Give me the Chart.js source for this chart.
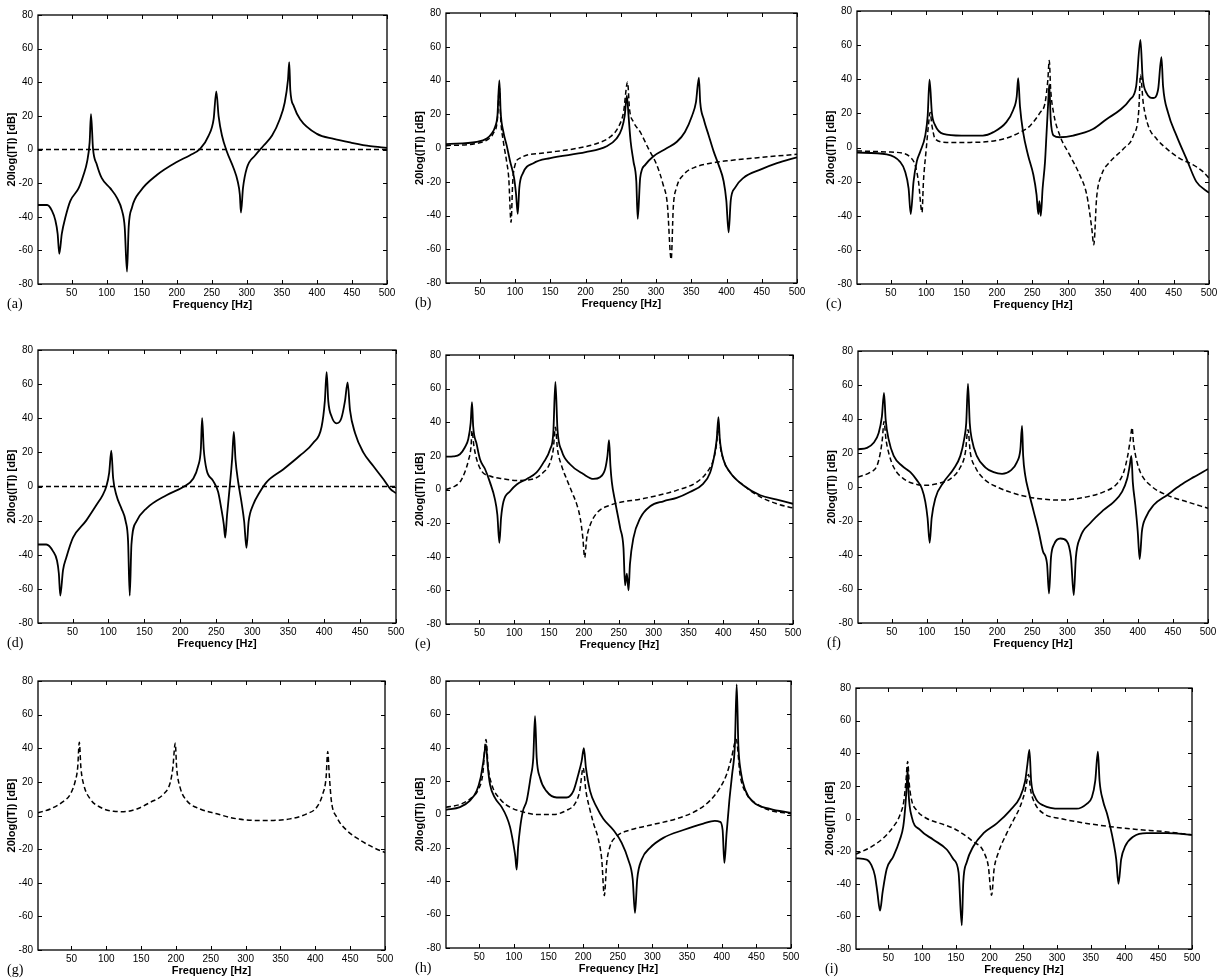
<!DOCTYPE html>
<html><head><meta charset="utf-8">
<script src="https://cdn.jsdelivr.net/npm/chart.js@4/dist/chart.umd.min.js"></script>
<style>
html,body{margin:0;padding:0;background:#fff;}
#page{position:relative;width:1232px;height:980px;overflow:hidden;background:#fff;}
#page canvas{position:absolute;}
.lbl{position:absolute;font-family:"Liberation Serif","DejaVu Serif",serif;font-size:14px;color:#000;line-height:1;}
</style></head><body><div id="page"></div>
<script>
// ---------- tick labels ----------
const xTicks = [50,100,150,200,250,300,350,400,450,500];
const yTicks = [-80,-60,-40,-20,0,20,40,60,80];
const xTitle = 'Frequency [Hz]';
const yTitle = '20log(|T|) [dB]';

// ---------- series: [frequency Hz, dB] ----------
const aSolid = [[2,-33],[15,-33],[22,-36.5],[26.7,-42],[30,-50],[32.4,-62],[36,-50],[41,-40.5],[48,-30.7],[60,-23],[67,-15],[72,-7.4],[75.7,4.4],[77.6,21],[80.5,0.5],[86,-9],[93,-17],[105,-23],[114.7,-28.8],[122,-36.5],[125.7,-46],[129,-72.6],[131.4,-46],[136,-34.6],[148,-24.8],[172,-15],[200,-7.4],[219,-3.4],[233.6,0.5],[245.5,8.3],[252.6,18],[256.4,34.6],[259.7,19.9],[264.5,8.3],[271.7,-1.5],[281,-11],[287,-19],[290,-26.8],[291.6,-37.5],[294.5,-23],[300,-11],[312,-3.4],[324,2.4],[336,8.3],[347,18],[354,27.8],[358.7,41.4],[360.5,52],[362,35.5],[367,25.8],[376,18],[400,9.3],[424,6.3],[449.5,4],[476,2],[500,1]];
const aDashed = [[2,0],[500,0]];

const bSolid = [[2,2.3],[45.6,3.6],[59.8,5.6],[66.9,8.6],[71.6,12.5],[75,19.3],[77.7,40],[79.6,21],[83.4,9.5],[88,1.7],[93,-8],[98.6,-17.7],[101.4,-27.4],[103.8,-39],[106,-23.6],[111,-15],[126,-9],[150,-6],[200,-2.5],[230,1],[244,5.6],[251.5,11.5],[255.5,19],[258.6,31],[261,19],[264,3.7],[268,-8],[272,-19.7],[274,-42],[277.5,-17.7],[284.6,-10],[296,-5],[315,-0.2],[329.6,3.7],[341,9.5],[351,19],[356.6,27],[360.8,41.7],[362.7,27],[367.5,17.3],[374.6,7.6],[381.7,-2],[388.8,-10],[395.9,-19.7],[399.7,-31],[403,-50],[406,-31],[412,-23.6],[424,-17.7],[448,-12.8],[471.6,-9],[500,-5.5]];
const bDashed = [[2,1.4],[45.6,2.7],[59.8,4.7],[69,8.6],[75,17.3],[77.7,36],[79.6,17.3],[83.4,3.7],[88,-8],[91,-17.7],[94.3,-44],[96.7,-19.7],[100,-10],[107,-6],[140,-3],[187.6,-0.2],[216,2.7],[235,6.6],[246.7,12.5],[253.8,21],[259.6,39],[262.4,23],[268,15.4],[277.5,9.5],[289,-0.2],[301,-10],[310,-21.6],[316,-33],[321.5,-66],[324.5,-35],[329,-23.6],[339,-15.8],[358,-11],[377,-9],[400.6,-7.6],[448,-5.6],[500,-3.7]];

const cSolid = [[2,-3],[44,-4],[63,-8.4],[70,-14],[75,-24],[78,-39],[82,-20],[86.7,-8],[91.4,-2.5],[98.5,7],[102,18.5],[104.6,39.7],[108,20],[112.6,13],[124,8],[150,7],[180,7],[195,9],[213,14.7],[223,22],[228,30],[230,40.6],[232.6,24],[237,9],[244,-4.5],[251.5,-16],[256,-27.6],[258.5,-39],[260,-31.4],[262,-40],[264.6,-24],[268,-8.4],[270,7],[272.7,28],[274,37],[276,16.6],[280,7],[289,6],[308,7],[336,10.8],[355,16.6],[374,22],[388,28],[397,36],[403,63],[406,41.6],[411.5,32],[421,29],[428,34],[432.7,53],[435,36],[442,20.5],[454,7],[468,-6.5],[482,-20],[500,-26.6]];
const cDashed = [[2,-2],[44,-2.6],[68,-3.5],[77,-5.5],[84,-10],[89,-20],[94,-38],[96,-20],[100,-0.7],[103,12.8],[105.5,20.5],[108,13],[112.6,5],[129,3],[162,3],[209,5],[233,9],[247,12.8],[261,20.5],[268,26],[272,39.6],[274,51],[276,34],[280,20.5],[289,7],[303,-4.5],[317,-16],[327,-27.6],[334,-46.8],[337,-57],[341,-29.5],[348,-16],[360,-8.4],[379,-0.7],[393,7],[400.7,22],[403,42.5],[407,26],[414,12.8],[426,5],[440,-0.7],[459,-6.5],[477,-10],[491,-14],[500,-18]];

const dSolid = [[2,-34],[13.6,-34],[23,-38],[28.5,-43.5],[31,-51],[33,-64],[36.8,-49],[41.4,-41.6],[50.7,-30],[69,-20],[83,-11],[92,-5],[97,0],[101,8],[104,21],[106.5,5],[111,-5],[118,-12.8],[124,-20.5],[127.3,-32],[129.6,-64],[132,-33.9],[139,-20.5],[153,-12.8],[180.7,-5.1],[204,-0.3],[217.8,4.5],[224.8,12],[228.5,21.7],[230.3,40],[232.6,21.7],[236.4,10],[245.6,3.3],[252.6,-3.2],[257,-13],[260.5,-22.4],[262.4,-30],[265,-16.7],[268.9,0.7],[272,16],[274.4,32],[276.7,16],[280.5,2.6],[285,-9],[288.8,-20.5],[292,-36],[295,-20.5],[301,-11],[310.6,-3.2],[320,2.6],[343,10],[366,18],[385,25.6],[396.5,35],[401,50],[403.5,67],[405.8,50],[410.4,41],[417.4,37],[424,40],[429,50],[432.7,61],[436,44.8],[443,31.4],[454.5,20],[468.4,12],[482,4.5],[491.7,-1.2],[500,-4]];
const dDashed = [[2,0],[500,0]];

const eSolid = [[2,19.5],[12.5,19.7],[22,21],[29,25],[34,30],[37.4,39.6],[39.3,51.9],[41,37.6],[46,27],[50.8,18],[58,12.2],[65,4.4],[72,-5.4],[75.7,-15],[78.6,-31.7],[81,-17],[84.4,-7.3],[94,-1],[103.5,3],[118,6.3],[132,10.2],[141.8,16],[151.4,23.9],[156,33.7],[159,64],[162,35.6],[168,23],[180,15],[199,9.2],[213.6,6.3],[223,7.3],[230.4,12.2],[233.7,20],[236,29.4],[238,14],[240,4.4],[244.8,-7.3],[252,-23],[256.7,-34.7],[259,-57],[261.5,-50],[264,-60],[266,-44.4],[271,-28.8],[280.7,-17],[295,-10],[314,-7],[333,-5],[352,-1.5],[371,3.4],[381,10],[387,20],[390.5,29.8],[393,43],[395,29.8],[400,18],[410,10],[429,2.4],[453,-3.4],[477,-6],[500,-8.5]];
const eDashed = [[2,0],[12.5,1.5],[22,4.4],[29,10.3],[34,17],[38,26],[39.3,35],[42,26],[46,18],[53,11],[65,8],[84.4,6.3],[103.5,5.4],[127.4,6.3],[141.8,10.2],[151.4,16],[156,24],[159,37],[162,24],[168,14],[175,6.3],[182.7,-1.5],[190,-9.3],[194.6,-17],[198.4,-28.8],[201,-40.5],[204,-28.8],[209,-21],[218.5,-14],[237.6,-9.3],[285.5,-5.4],[333,-0.5],[362,4.4],[376.4,10.2],[386,18],[390.5,27.8],[393,39],[395,27.8],[400,18],[410,10],[429,2.4],[453,-4.4],[477,-8.5],[500,-11]];

const fSolid = [[2,22.2],[14.8,23],[24.3,26],[31.4,31.8],[36,41.4],[39,55.3],[41.4,39.5],[45.6,28],[52.8,18.3],[64.6,12.5],[76.5,8.7],[86,3.9],[93,-1],[97.8,-8.7],[101,-18.3],[104,-32.8],[106.8,-18.3],[112,-6.7],[124,2.9],[138,10.6],[147.6,18.3],[153,28],[156,37.6],[158.5,60.7],[161,37.6],[164,28],[171,18.3],[183,11.6],[195,8.7],[207,7.7],[219,9.6],[228,14.5],[233,22],[235.4,36],[237,18.3],[240,6.7],[245,-2.9],[252,-14.5],[259,-26],[265,-37.6],[271,-45.3],[273.8,-62.6],[276.6,-41.4],[281,-33.7],[290,-30.3],[299,-31.8],[305,-41.4],[309,-63.6],[312,-41.4],[318,-29.8],[332.6,-21.2],[351.6,-13.5],[366,-8.7],[377.6,-2.9],[385,4.8],[388.6,12.5],[391,18.3],[393,2.9],[396.6,-10.6],[400,-26],[402.8,-42.4],[406,-26],[411,-18.3],[422.7,-10.6],[441.7,-4.8],[460.6,1],[479.6,5.8],[500,10.6]];
const fDashed = [[2,5.8],[19.5,8.7],[29,12.5],[33.8,20.2],[36.6,28],[39,38.5],[41.8,28],[45.6,20.2],[52.8,11.6],[67,4.8],[86,1.5],[100,1],[114.4,1.9],[133.4,4.8],[147.6,11.6],[154.7,20.2],[158.5,33.7],[161.8,20.2],[169,11.6],[181,4.8],[200,0],[233,-4.8],[256.7,-6.7],[290,-7.7],[327.7,-5.8],[351.6,-2.9],[370.5,1.9],[380,8.7],[385.7,18.3],[389.5,28],[392,35],[394,26],[398,16.4],[403.7,8.7],[418,1],[441.7,-4.8],[470,-8.7],[500,-12.5]];

const gSolid = [];
const gDashed = [[2,1.6],[19.7,3.9],[36.4,7.8],[48.4,12.7],[55.5,20.5],[58.9,28.3],[61.3,43.5],[63.6,28.3],[67.5,18.5],[77,9.8],[91.4,4.9],[110.5,2.5],[124.8,2.3],[144,3.9],[163,7.8],[182,12.7],[191.7,19.5],[195.5,28.3],[199,43],[201,28.3],[206,16.6],[215.6,8.8],[234.7,3.9],[258.6,1],[282.5,-1.6],[311,-2.9],[340,-2.9],[363.8,-2],[387.7,1],[402,4.9],[410.6,12.7],[415.4,22.4],[417.8,38],[420,24.4],[423,8.8],[430.7,-1],[445,-8.8],[464,-14.6],[483,-19],[500,-22]];

const hSolid = [[2,2.8],[22.2,4.4],[36.6,8.3],[46.3,14.1],[52,22],[56,32],[59.7,42],[62,30],[65.5,18],[72.7,10],[82.4,4.4],[89.6,-1.5],[94.4,-7.4],[99,-17],[102,-25],[104,-33],[106,-20],[109,-8],[113,2],[118.5,8.3],[124,22],[128,34],[130.5,59],[132.9,34],[137.7,22],[147,14],[161.8,10.2],[176,10.2],[185.8,14],[193,24],[197.8,32],[201,39.7],[204,27.9],[210,14],[219.5,4.4],[229,-2.5],[243.6,-9.3],[255.6,-17],[265,-27],[271.5,-38.8],[274.8,-59],[278,-38.8],[284.5,-27],[296.5,-20],[315.7,-14],[344.6,-9.3],[373.5,-5.4],[390,-3.8],[397.5,-4.4],[401.3,-9.3],[403.8,-29],[407,-11.3],[411,8.3],[415,24],[419,41.7],[421.6,78],[424,41.7],[427.4,26],[433.7,15],[445.7,7.4],[469.7,3.4],[500,1]];
const hDashed = [[2,4.4],[22,6],[36.6,9.3],[48.7,15],[55,24],[59.7,45],[63,28],[68,18],[80,9.3],[94.4,4.4],[113.6,1.5],[133,0],[157,0],[176,2.5],[188,6.4],[195,14],[200,28],[204,14],[210,2.5],[214.7,-5],[222,-15],[226.8,-27],[230.5,-48.6],[234,-29],[238.8,-19],[248.4,-13],[267.6,-9.3],[296.5,-6.4],[335,-2.5],[364,2.4],[383,8.3],[397.5,16],[407,24],[414,33.8],[421,45],[426.4,24],[436,12.2],[450.6,6.4],[469.7,2.5],[500,0.5]];

const iSolid = [[2,-24.4],[17.8,-25.2],[25,-28.8],[30,-35],[33.6,-45],[37.6,-56.5],[41.5,-45],[47.5,-31],[57.4,-23.2],[67,-13],[72,-5],[75,7],[77,19],[78.6,30],[80,15],[84.6,1],[97,-7],[116.7,-13],[136.5,-19],[146.4,-25],[154,-33],[158.8,-65.5],[161,-39],[166,-27],[176,-17],[191,-9],[210.7,-3],[230.5,5],[245,13],[252.7,23],[256,33],[259,42],[261.6,23],[267.5,13],[280,8],[304.6,6],[329,6],[344,9],[351.6,13],[356.6,23],[360.5,41],[363,23],[368,11],[374,3],[378.8,-5],[383.8,-15],[387.7,-25],[391,-40],[395,-25],[401,-17],[413.4,-11],[433,-9],[463,-9],[500,-10]];
const iDashed = [[2,-21.8],[22.8,-17.8],[42.5,-12],[57.4,-5],[67,2],[73,11],[76,23],[78.6,35],[81,21],[84.6,11],[92,5],[107,0],[126.6,-3],[146.4,-6],[166,-11],[178.5,-15],[186,-17],[193,-22],[198,-29],[203,-47],[206.7,-31],[213,-21],[225.5,-9],[235.4,-1],[245,7],[252.7,17],[257.7,27],[261,17],[267.5,9],[280,3],[304.6,0],[344,-3],[379,-5],[418,-6.7],[458,-8],[500,-10]];

// ---------- layout (plot boxes in page pixels: left, top, right, bottom) ----------
const panels = [
  {label:'(a)', box:[38,11,387,284],  solid:aSolid, dashed:aDashed},
  {label:'(b)', box:[446,9,797,283],  solid:bSolid, dashed:bDashed},
  {label:'(c)', box:[857,7,1209,284], solid:cSolid, dashed:cDashed},
  {label:'(d)', box:[38,346,396,623], solid:dSolid, dashed:dDashed},
  {label:'(e)', box:[446,351,793,624],solid:eSolid, dashed:eDashed},
  {label:'(f)', box:[858,347,1208,623],solid:fSolid, dashed:fDashed},
  {label:'(g)', box:[38,677,385,950], solid:gSolid, dashed:gDashed},
  {label:'(h)', box:[446,677,791,948],solid:hSolid, dashed:hDashed},
  {label:'(i)', box:[856,684,1192,949],solid:iSolid, dashed:iDashed}
];

const FONT = '"Liberation Sans", Arial, Helvetica, sans-serif';
const boxPlugin = {
  id:'matlabBox',
  afterDraw(chart){
    const {ctx, chartArea:{left,top,right,bottom}, scales:{x,y}} = chart;
    ctx.save();
    ctx.strokeStyle = '#000';
    ctx.lineWidth = 1.3;
    ctx.strokeRect(left, top, right-left, bottom-top);
    ctx.lineWidth = 1;
    ctx.beginPath();
    const tl = 4;
    x.ticks.forEach(t => {
      const px = Math.round(x.getPixelForValue(t.value)) + 0.5;
      ctx.moveTo(px, bottom); ctx.lineTo(px, bottom - tl);
      ctx.moveTo(px, top); ctx.lineTo(px, top + tl);
    });
    y.ticks.forEach(t => {
      const py = Math.round(y.getPixelForValue(t.value)) + 0.5;
      ctx.moveTo(left, py); ctx.lineTo(left + tl, py);
      ctx.moveTo(right, py); ctx.lineTo(right - tl, py);
    });
    ctx.stroke();
    ctx.restore();
  }
};

const page = document.getElementById('page');
const padTop = 7, padRight = 16, yW = 40, xH = 30;
const toXY = arr => arr.map(([x,y]) => ({x, y}));

panels.forEach(p => {
  const [L,T,R,B] = p.box;
  const W = (R-L) + yW + padRight, H = (B-T) + padTop + xH;
  const cv = document.createElement('canvas');
  cv.width = W; cv.height = H;
  cv.style.width = W+'px'; cv.style.height = H+'px';
  cv.style.left = (L-yW)+'px'; cv.style.top = (T-padTop)+'px';
  page.appendChild(cv);

  const lab = document.createElement('div');
  lab.className = 'lbl';
  lab.textContent = p.label;
  lab.style.left = (L-31)+'px';
  lab.style.top = (B+13)+'px';
  page.appendChild(lab);

  const datasets = [];
  if (p.solid.length) datasets.push({data: toXY(p.solid), borderColor:'#000', borderWidth:1.8, pointRadius:0, fill:false, cubicInterpolationMode:'monotone', order:0});
  if (p.dashed.length) datasets.push({data: toXY(p.dashed), borderColor:'#000', borderWidth:1.5, borderDash:[5,3], pointRadius:0, fill:false, cubicInterpolationMode:'monotone', order:1});

  new Chart(cv, {
    type:'line',
    data:{datasets},
    plugins:[boxPlugin],
    options:{
      responsive:false, animation:false, devicePixelRatio:1, events:[],
      layout:{padding:{top:padTop,right:padRight,left:0,bottom:0}, autoPadding:false},
      plugins:{legend:{display:false}, tooltip:{enabled:false}, title:{display:false}},
      scales:{
        x:{type:'linear', min:2, max:500,
           afterBuildTicks: s => { s.ticks = xTicks.map(v => ({value:v})); },
           afterFit: s => { s.height = xH; },
           grid:{display:false, drawTicks:false, tickLength:0}, border:{display:false},
           ticks:{color:'#000', font:{family:FONT, size:10}, padding:3, maxRotation:0, autoSkip:false},
           title:{display:true, text:xTitle, color:'#000', font:{family:FONT, size:11, weight:'bold'}, padding:{top:0,bottom:2.4}}
        },
        y:{type:'linear', min:-80, max:80,
           afterBuildTicks: s => { s.ticks = yTicks.map(v => ({value:v})); },
           afterFit: s => { s.width = yW; },
           grid:{display:false, drawTicks:false, tickLength:0}, border:{display:false},
           ticks:{color:'#000', font:{family:FONT, size:10}, padding:5, autoSkip:false},
           title:{display:true, text:yTitle, color:'#000', font:{family:FONT, size:11, weight:'bold'}, padding:{top:7.4,bottom:0}}
        }
      }
    }
  });
});
</script></body></html>
